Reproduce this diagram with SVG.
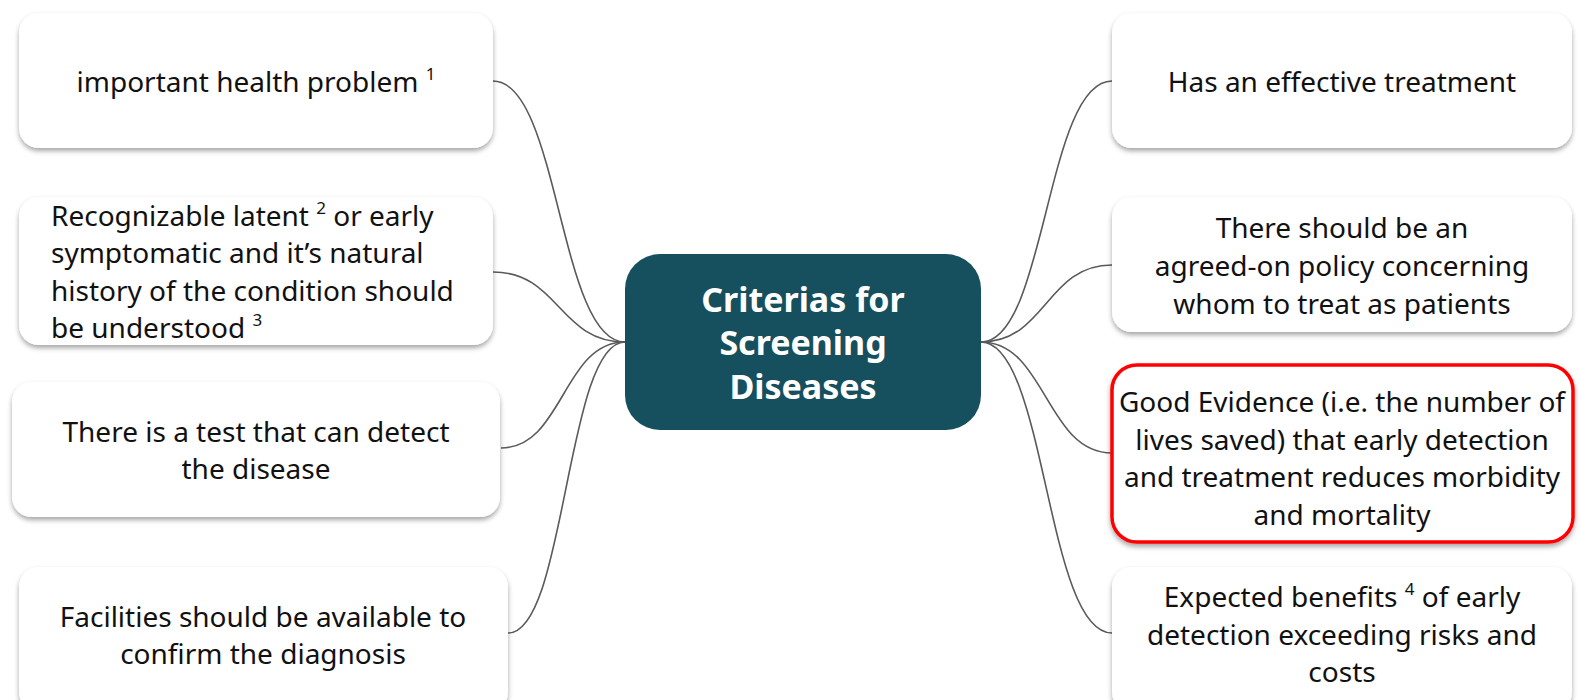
<svg xmlns="http://www.w3.org/2000/svg" width="1580" height="700" viewBox="0 0 1580 700">
<defs>
<filter id="sh" x="-5%" y="-10%" width="110%" height="130%">
<feDropShadow dx="0" dy="3" stdDeviation="2.5" flood-color="#000" flood-opacity="0.35"/>
</filter>
<style>
.box{fill:#fff;filter:url(#sh)}
.hl{fill:#fff;stroke:#ff0000;stroke-width:3.5;filter:url(#sh)}
.t{font-family:"Noto Sans","Liberation Sans",sans-serif;font-size:28px;fill:#111}
.c{text-anchor:middle}
.sup{font-size:17px}
.ct{font-family:"Noto Sans","Liberation Sans",sans-serif;font-size:34px;font-weight:bold;fill:#fff;text-anchor:middle}
.ln{fill:none;stroke:#5a5a5a;stroke-width:1.6}
</style>
</defs>
<rect width="1580" height="700" fill="#fff"/>
<g id="connectors">
<path class="ln" d="M625,342 C559,342 559,81 493,81"/>
<path class="ln" d="M625,342 C559,342 559,272 493,272"/>
<path class="ln" d="M625,342 C563,342 563,448 501,448"/>
<path class="ln" d="M625,342 C566,342 566,633 508,633"/>
<path class="ln" d="M981,342 C1046,342 1046,81 1112,81"/>
<path class="ln" d="M981,342 C1046,342 1046,265 1112,265"/>
<path class="ln" d="M981,342 C1046,342 1046,453 1112,453"/>
<path class="ln" d="M981,342 C1046,342 1046,633 1112,633"/>
</g>
<g id="center">
<rect x="625" y="254" width="356" height="176" rx="35" fill="#164f5d"/>
<text class="ct"><tspan x="803" y="312">Criterias for</tspan><tspan x="803" y="355">Screening</tspan><tspan x="803" y="399">Diseases</tspan></text>
</g>
<g id="n1">
<rect class="box" x="19" y="13" width="474" height="135" rx="20"/>
<text class="t c" x="256" y="92">important health problem <tspan class="sup" dy="-12">1</tspan></text>
</g>
<g id="n2">
<rect class="box" x="19" y="197" width="474" height="148" rx="20"/>
<text class="t"><tspan x="51" y="226">Recognizable latent <tspan class="sup" dy="-12">2</tspan><tspan dy="12"> or early</tspan></tspan><tspan x="51" y="263">symptomatic and it’s natural</tspan><tspan x="51" y="301">history of the condition should</tspan><tspan x="51" y="338">be understood <tspan class="sup" dy="-12">3</tspan></tspan></text>
</g>
<g id="n3">
<rect class="box" x="12" y="382" width="488" height="135" rx="20"/>
<text class="t c"><tspan x="256" y="442">There is a test that can detect</tspan><tspan x="256" y="479">the disease</tspan></text>
</g>
<g id="n4">
<rect class="box" x="19" y="567" width="489" height="145" rx="20"/>
<text class="t c"><tspan x="263" y="627">Facilities should be available to</tspan><tspan x="263" y="664">confirm the diagnosis</tspan></text>
</g>
<g id="r1">
<rect class="box" x="1112" y="13" width="460" height="135" rx="20"/>
<text class="t c" x="1342" y="92">Has an effective treatment</text>
</g>
<g id="r2">
<rect class="box" x="1112" y="197" width="460" height="135" rx="20"/>
<text class="t c"><tspan x="1342" y="238">There should be an</tspan><tspan x="1342" y="276">agreed-on policy concerning</tspan><tspan x="1342" y="314">whom to treat as patients</tspan></text>
</g>
<g id="r3">
<rect class="hl" x="1112" y="365" width="461" height="177" rx="25"/>
<text class="t c"><tspan x="1342" y="412">Good Evidence (i.e. the number of</tspan><tspan x="1342" y="450">lives saved) that early detection</tspan><tspan x="1342" y="487">and treatment reduces morbidity</tspan><tspan x="1342" y="525">and mortality</tspan></text>
</g>
<g id="r4">
<rect class="box" x="1112" y="567" width="460" height="145" rx="20"/>
<text class="t c"><tspan x="1342" y="607">Expected benefits <tspan class="sup" dy="-12">4</tspan><tspan dy="12"> of early</tspan></tspan><tspan x="1342" y="645">detection exceeding risks and</tspan><tspan x="1342" y="682">costs</tspan></text>
</g>
</svg>
